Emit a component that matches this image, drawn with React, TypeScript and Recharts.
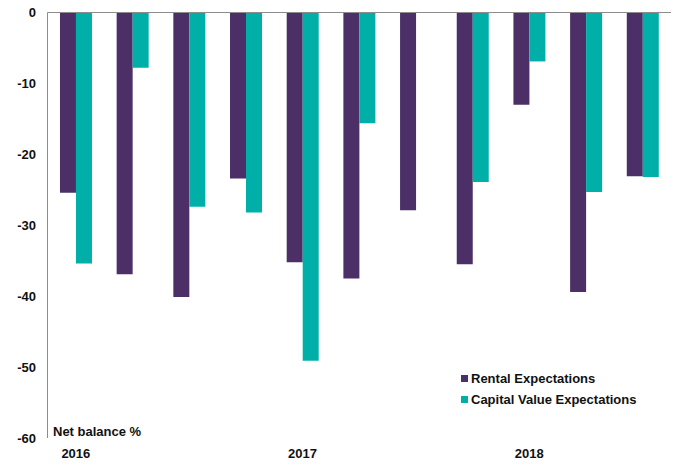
import { BarChart, Bar, XAxis, YAxis, ReferenceLine } from 'recharts'

const quarters = ['2016 Q1', '2016 Q2', '2016 Q3', '2016 Q4', '2017 Q1', '2017 Q2', '2017 Q3', '2017 Q4', '2018 Q1', '2018 Q2', '2018 Q3']
const rental = [-25.4, -36.9, -40.1, -23.4, -35.2, -37.5, -27.9, -35.5, -13.0, -39.4, -23.1]
const capital = [-35.4, -7.8, -27.4, -28.2, -49.1, -15.6, null, -23.9, -6.9, -25.3, -23.2]
const yTicks = [0, -10, -20, -30, -40, -50, -60]
const legendItems = ['Rental Expectations', 'Capital Value Expectations']

const PURPLE = '#4b2f66'
const TEAL = '#00b0a8'
const FONT = '"Liberation Sans", Arial, sans-serif'

const data = quarters.map((q, i) => ({ name: q, rental: rental[i], capital: capital[i] }))

const textStyle = { fontFamily: FONT, fontWeight: 'bold' as const, fontSize: 13, color: '#111' }

export default function App() {
  const colors = [PURPLE, TEAL]
  return (
    <div style={{ position: 'absolute', left: 0, top: 0, width: 677, height: 467, background: '#fff' }}>
      <BarChart
        width={677}
        height={467}
        data={data}
        margin={{ top: 12.5, right: 6, bottom: 0, left: 0 }}
        barCategoryGap="22%"
        barGap={0}
      >
        <XAxis
          dataKey="name"
          axisLine={false}
          tickLine={false}
          interval={0}
          height={29}
          tickMargin={5}
          tickFormatter={(v: string) => (v.endsWith('Q1') ? v.slice(0, 4) : '')}
          tick={{ fill: '#111', fontSize: 13, fontWeight: 'bold', fontFamily: FONT }}
        />
        <YAxis
          domain={[-60, 0]}
          ticks={yTicks}
          width={47.5}
          tickLine={false}
          axisLine={{ stroke: '#8c8c8c' }}
          tickMargin={5.5}
          tick={{ fill: '#111', fontSize: 13, fontWeight: 'bold', fontFamily: FONT }}
        />
        <ReferenceLine y={0} stroke="#8c8c8c" />
        <Bar dataKey="rental" name="Rental Expectations" fill={PURPLE} isAnimationActive={false} />
        <Bar dataKey="capital" name="Capital Value Expectations" fill={TEAL} isAnimationActive={false} />
      </BarChart>
      <div style={{ position: 'absolute', left: 461, top: 368, ...textStyle }}>
        {legendItems.map((label, i) => (
          <div key={label} style={{ display: 'flex', alignItems: 'center', height: 21 }}>
            <span style={{ width: 7, height: 7, background: colors[i], marginRight: 3, display: 'inline-block' }} />
            {label}
          </div>
        ))}
      </div>
      <div style={{ position: 'absolute', left: 53, top: 424, ...textStyle }}>Net balance %</div>
    </div>
  )
}
